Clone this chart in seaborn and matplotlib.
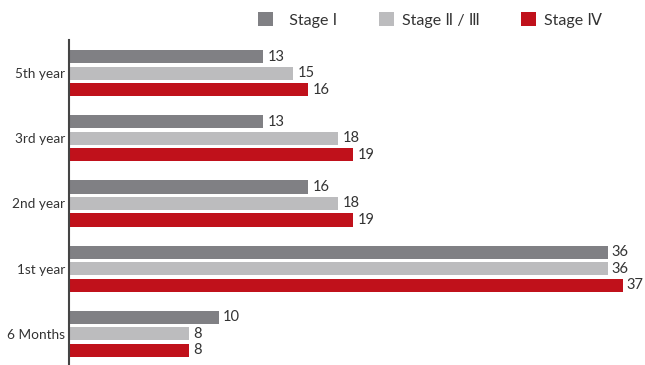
import matplotlib
matplotlib.use("Agg")
import matplotlib.pyplot as plt
import seaborn as sns
import pandas as pd
from matplotlib.patches import Patch

categories = ["5th year", "3rd year", "2nd year", "1st year", "6 Months"]
series_names = ["Stage Ⅰ", "Stage Ⅱ / Ⅲ", "Stage Ⅳ"]
stage1 = [13, 13, 16, 36, 10]
stage23 = [15, 18, 18, 36, 8]
stage4 = [16, 19, 19, 37, 8]
colors = ["#808084", "#bcbcbe", "#c0111b"]

rows = []
for name, vals in zip(series_names, [stage1, stage23, stage4]):
    for c, v in zip(categories, vals):
        rows.append({"period": c, "stage": name, "value": v})
df = pd.DataFrame(rows)

sns.set_style("white")
plt.rcParams["font.family"] = ["Lato", "DejaVu Sans"]

fig = plt.figure(figsize=(6.45, 3.65), dpi=100)
ax = fig.add_axes([69 / 645, 0.0, 1 - 69 / 645, 1 - 40 / 365])

sns.barplot(data=df, y="period", x="value", hue="stage", order=categories,
            hue_order=series_names, palette=colors, orient="h", width=0.76,
            gap=0.2, linewidth=0, saturation=1, ax=ax, legend=False)

for cont in ax.containers:
    ax.bar_label(cont, padding=3, fontsize=10.5, color="#333333")

ax.set_xlim(0, 38.5)
ax.set_ylim(4.48, -0.51)
ax.set_xlabel("")
ax.set_ylabel("")
ax.set_xticks([])
ax.tick_params(axis="y", length=0, labelsize=9.8, labelcolor="#333333", pad=3)
for s in ["top", "right", "bottom"]:
    ax.spines[s].set_visible(False)
ax.spines["left"].set_color("#444444")
ax.spines["left"].set_linewidth(1.5)

handles = [Patch(facecolor=c, edgecolor="none") for c in colors]
labels = ["  " + series_names[0]] + series_names[1:]
fig.legend(handles, labels, loc="center", bbox_to_anchor=(430 / 645, 1 - 20 / 365),
           ncol=3, frameon=False, fontsize=11.5, handlelength=0.95, handleheight=0.95,
           handletextpad=0.5, columnspacing=2.6, labelcolor="#333333")

fig.savefig("out.png", dpi=100)
